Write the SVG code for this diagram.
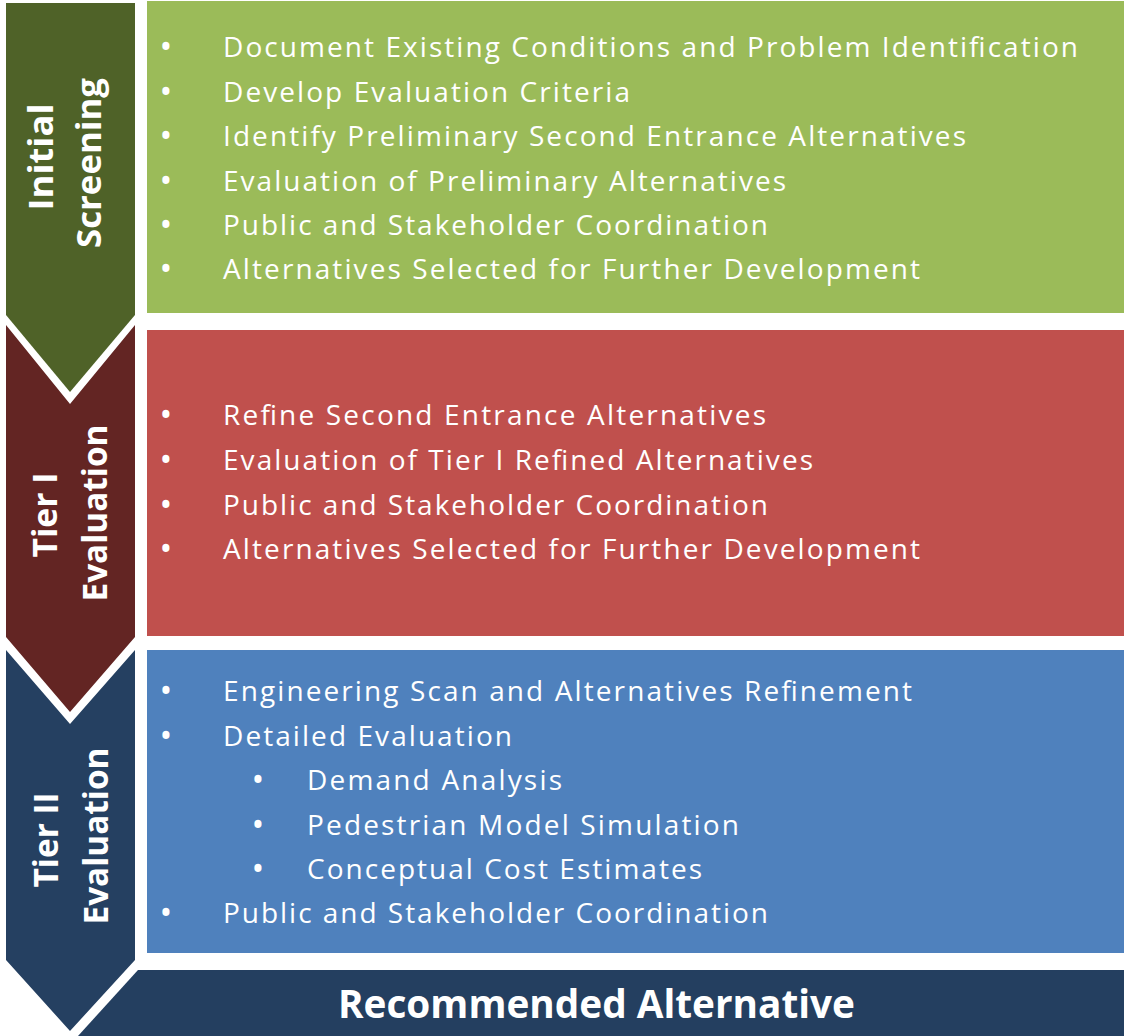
<svg xmlns="http://www.w3.org/2000/svg" width="1124" height="1036" viewBox="0 0 1124 1036">
<style>
.item{font-family:"Open Sans","Liberation Sans",sans-serif;font-size:28px;fill:#ffffff}
.bul{font-family:"Open Sans","Liberation Sans",sans-serif;font-size:34px;fill:#ffffff;text-anchor:middle}
.side{font-family:"Open Sans","Liberation Sans",sans-serif;font-size:34px;font-weight:bold;fill:#ffffff;text-anchor:middle}
.final{font-family:"Open Sans","Liberation Sans",sans-serif;font-size:39px;font-weight:bold;fill:#ffffff}
</style>
<rect width="1124" height="1036" fill="#ffffff"/>
<g id="connectors"></g>
<g id="initial-screening">
  <polygon points="6,3 135,3 135,315 70,392 6,315" fill="#4F6228"/>
  <rect x="147" y="1" width="977" height="312" fill="#9BBB59"/>
  <text class="side" transform="translate(53,157) rotate(-90)" textLength="107" lengthAdjust="spacingAndGlyphs">Initial</text>
  <text class="side" transform="translate(101,163) rotate(-90)" textLength="170" lengthAdjust="spacingAndGlyphs">Screening</text>
  <text class="bul" x="166" y="59">•</text>
  <text class="item" x="223" y="57" textLength="855">Document Existing Conditions and Problem Identification</text>
  <text class="bul" x="166" y="104">•</text>
  <text class="item" x="223" y="102" textLength="407">Develop Evaluation Criteria</text>
  <text class="bul" x="166" y="148">•</text>
  <text class="item" x="223" y="146" textLength="743">Identify Preliminary Second Entrance Alternatives</text>
  <text class="bul" x="166" y="193">•</text>
  <text class="item" x="223" y="191" textLength="563">Evaluation of Preliminary Alternatives</text>
  <text class="bul" x="166" y="237">•</text>
  <text class="item" x="223" y="235" textLength="545">Public and Stakeholder Coordination</text>
  <text class="bul" x="166" y="281">•</text>
  <text class="item" x="223" y="279" textLength="697">Alternatives Selected for Further Development</text>
</g>
<g id="tier1-evaluation">
  <polygon points="6,325 70,404 135,325 135,637 70,712 6,637" fill="#632523"/>
  <rect x="147" y="330" width="977" height="306" fill="#C0504D"/>
  <text class="side" transform="translate(57,515) rotate(-90)" textLength="85" lengthAdjust="spacingAndGlyphs">Tier I</text>
  <text class="side" transform="translate(107,513) rotate(-90)" textLength="177" lengthAdjust="spacingAndGlyphs">Evaluation</text>
  <text class="bul" x="166" y="427">•</text>
  <text class="item" x="223" y="425" textLength="543">Refine Second Entrance Alternatives</text>
  <text class="bul" x="166" y="472">•</text>
  <text class="item" x="223" y="470" textLength="590">Evaluation of Tier I Refined Alternatives</text>
  <text class="bul" x="166" y="517">•</text>
  <text class="item" x="223" y="515" textLength="545">Public and Stakeholder Coordination</text>
  <text class="bul" x="166" y="561">•</text>
  <text class="item" x="223" y="559" textLength="697">Alternatives Selected for Further Development</text>
</g>
<g id="tier2-evaluation">
  <polygon points="6,650 70,724 135,650 135,960 70,1031 6,960" fill="#254061"/>
  <rect x="147" y="650" width="977" height="303" fill="#4F81BD"/>
  <text class="side" transform="translate(58,840) rotate(-90)" textLength="95" lengthAdjust="spacingAndGlyphs">Tier II</text>
  <text class="side" transform="translate(108,836) rotate(-90)" textLength="177" lengthAdjust="spacingAndGlyphs">Evaluation</text>
  <text class="bul" x="166" y="703">•</text>
  <text class="item" x="223" y="701" textLength="689">Engineering Scan and Alternatives Refinement</text>
  <text class="bul" x="166" y="748">•</text>
  <text class="item" x="223" y="746" textLength="289">Detailed Evaluation</text>
  <text class="bul" x="258" y="792">•</text>
  <text class="item" x="307" y="790" textLength="255">Demand Analysis</text>
  <text class="bul" x="258" y="837">•</text>
  <text class="item" x="307" y="835" textLength="432">Pedestrian Model Simulation</text>
  <text class="bul" x="258" y="881">•</text>
  <text class="item" x="307" y="879" textLength="395">Conceptual Cost Estimates</text>
  <text class="bul" x="166" y="925">•</text>
  <text class="item" x="223" y="923" textLength="545">Public and Stakeholder Coordination</text>
</g>
<g id="recommended-alternative">
  <polygon points="138,970 1124,970 1124,1036 78,1036" fill="#243F60"/>
  <text class="final" x="338" y="1018" textLength="517" lengthAdjust="spacingAndGlyphs">Recommended Alternative</text>
</g>
</svg>
